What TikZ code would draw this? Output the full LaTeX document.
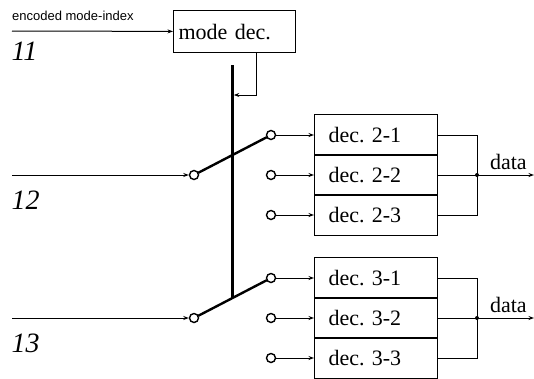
\documentclass[tikz,border=0pt]{standalone}
\usepackage{fontspec}
\setmainfont{Liberation Serif}
\newfontfamily\idxfont{Liberation Sans}
\usetikzlibrary{arrows.meta,calc,positioning}
\tikzset{
  sigline/.style={line width=1pt, -{Stealth[length=5.5pt,width=4pt]}},
  wire/.style={line width=1pt},
  lever/.style={line width=2.4pt, line cap=round},
  bar/.style={line width=2.6pt},
  decbox/.style={draw, line width=1.1pt, anchor=west, minimum height=40.5pt,
    text width=95pt, inner xsep=14pt, align=left,
    font=\fontsize{22}{22}\selectfont},
  modebox/.style={decbox, anchor=north west, minimum height=42pt,
    text width=112pt, inner xsep=5pt},
  contact/.style={circle, draw, line width=1.4pt, fill=white,
    inner sep=0pt, minimum size=9pt},
  portnum/.style={anchor=west, font=\fontsize{28}{28}\selectfont\itshape},
  idxlabel/.style={anchor=west, inner sep=0pt, font=\idxfont\fontsize{13}{13}\selectfont},
}
\newcommand{\datalabel}{node[pos=.55, above=1pt, font=\fontsize{22}{22}\selectfont] {data}}
\begin{document}
\frenchspacing
\begin{tikzpicture}[x=1pt,y=-1pt]
  \useasboundingbox (0,0) rectangle (534,378);
  % mode decoder
  \node[modebox] (mode) at (173,10) {mode dec.};
  \coordinate (modein) at (12,31);
  \draw[sigline] (modein) -- (mode);
  \node[idxlabel] (idx) at (12,16) {encoded mode-index};
  \node[portnum] (p11) at (8,51) {11};
  % two switched decoder groups
  \foreach \g/\y in {2/175,3/318} {
    \coordinate (in\g) at (12,\y);
    \node[contact] (sw\g) at (194,\y) {};
    \draw[sigline] (in\g) -- (sw\g);
    \node[portnum] (p1\g) at (8,\y+25) {1\g};
    \foreach \k in {1,2,3} {
      \node[contact] (t\g\k) at (271,\y+40*\k-80) {};
      \node[decbox] (d\g\k) at (314,\y+40*\k-80) {dec. \g-\k};
      \draw[sigline] (t\g\k) -- (d\g\k);
    }
    \draw[lever] (sw\g) -- (t\g1);
    \coordinate (j\g) at (477,\y);
    \coordinate (out\g) at (534,\y);
    \draw[wire] (d\g1.east) -| (j\g) |- (d\g3.east);
    \draw[wire] (d\g2.east) -- (j\g);
    \fill (j\g) circle (2pt);
    \draw[sigline] (j\g) -- (out\g) \datalabel;
  }
  % ganged switch control
  \coordinate (barbot) at ($(sw3)!0.5!(t31)$);
  \coordinate (bartop) at (0,65);
  \coordinate (ctlrow) at (0,95);
  \draw[bar] (barbot |- bartop) -- (barbot);
  \draw[sigline, shorten >=1.3pt] ([xshift=22pt]mode.south) |- (barbot |- ctlrow);
\end{tikzpicture}
\end{document}
